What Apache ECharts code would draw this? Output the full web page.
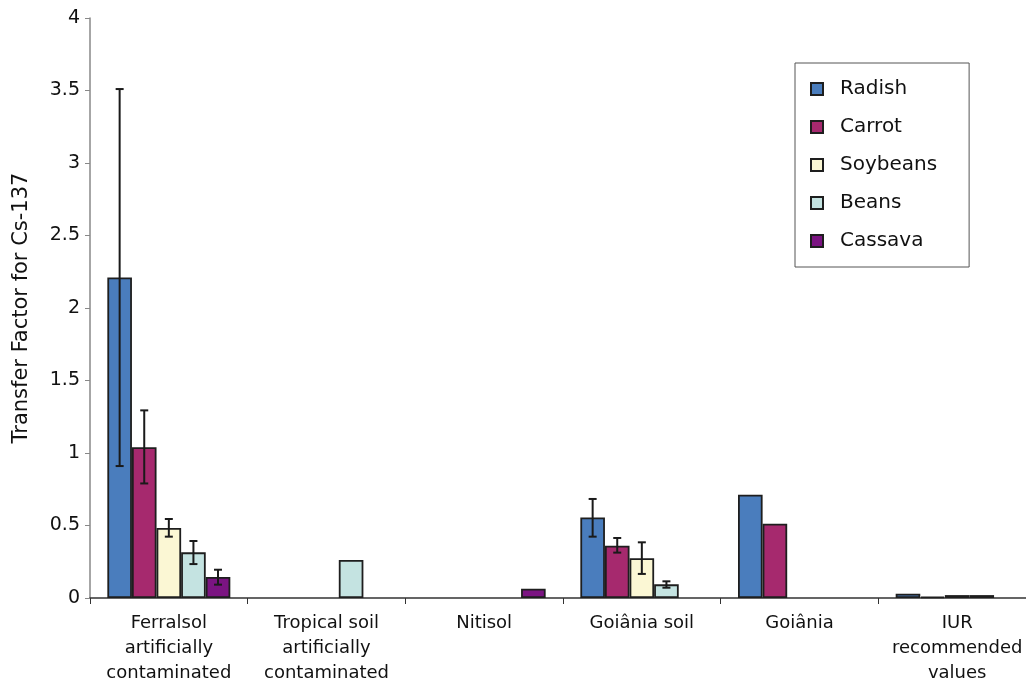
<!DOCTYPE html>
<html>
<head>
<meta charset="utf-8">
<script src="https://cdn.jsdelivr.net/npm/echarts@6/dist/echarts.min.js"></script>
<style>
html, body { margin: 0; padding: 0; background: #fff; }
#chart { width: 1026px; height: 683px; }
</style>
</head>
<body>
<div id="chart"></div>
<script>
var categories = [
    'Ferralsol\nartificially\ncontaminated',
    'Tropical soil\nartificially\ncontaminated',
    'Nitisol',
    'Goiânia soil',
    'Goiânia',
    'IUR\nrecommended\nvalues'
];
var seriesNames = ['Radish', 'Carrot', 'Soybeans', 'Beans', 'Cassava'];
var colors = ['#4a7dbd', '#a6296e', '#fbf7d4', '#c4e3e1', '#7b1482'];

var radish   = [2.21, '-', '-', 0.555, 0.712, 0.03];
var carrot   = [1.04, '-', '-', 0.36, 0.512, 0.01];
var soybeans = [0.483, '-', '-', 0.274, '-', 0.02];
var beans    = [0.315, 0.262, '-', 0.094, '-', 0.02];
var cassava  = [0.145, '-', 0.064, '-', '-', '-'];

// error bars [low, high] per category
var radishErr   = [[0.91, 3.51], null, null, [0.423, 0.683], null, null];
var carrotErr   = [[0.79, 1.294], null, null, [0.313, 0.414], null, null];
var soybeansErr = [[0.423, 0.545], null, null, [0.166, 0.384], null, null];
var beansErr    = [[0.234, 0.393], null, null, [0.071, 0.115], null, null];
var cassavaErr  = [[0.092, 0.195], null, null, null, null, null];

var values = [radish, carrot, soybeans, beans, cassava];
var errs = [radishErr, carrotErr, soybeansErr, beansErr, cassavaErr];

var catGap = 0.22;
var errData = [];
errs.forEach(function (list, s) {
    list.forEach(function (e, c) {
        if (e) errData.push([c, s, e[0], e[1]]);
    });
});

var chart = echarts.init(document.getElementById('chart'));

var series = seriesNames.map(function (name, i) {
    return {
        name: name,
        type: 'bar',
        barGap: 0,
        barCategoryGap: (catGap * 100) + '%',
        data: values[i],
        itemStyle: {
            color: colors[i],
            borderColor: '#1e1e1e',
            borderWidth: 1.8
        }
    };
});

series.push({
    type: 'custom',
    name: 'err',
    z: 10,
    renderItem: function (params, api) {
        var c = api.value(0), s = api.value(1);
        var band = api.size([1, 0])[0];
        var bw = band * (1 - catGap) / 5;
        var lo = api.coord([c, api.value(2)]);
        var hi = api.coord([c, api.value(3)]);
        var x = lo[0] + (s - 2) * bw;
        var cap = 4;
        var st = { stroke: '#1a1a1a', lineWidth: 2 };
        return {
            type: 'group',
            children: [
                { type: 'line', shape: { x1: x, y1: lo[1], x2: x, y2: hi[1] }, style: st },
                { type: 'line', shape: { x1: x - cap, y1: lo[1], x2: x + cap, y2: lo[1] }, style: st },
                { type: 'line', shape: { x1: x - cap, y1: hi[1], x2: x + cap, y2: hi[1] }, style: st }
            ]
        };
    },
    encode: { x: 0, y: 2 },
    data: errData,
    silent: true
});

var option = {
    animation: false,
    grid: {
        left: 90,
        right: -10,
        top: 18,
        bottom: 85,
        outerBoundsMode: 'none'
    },
    legend: {
        data: seriesNames,
        icon: 'rect',
        orient: 'vertical',
        left: 795,
        top: 63,
        padding: [16, 32, 16, 15],
        itemGap: 18,
        itemWidth: 12,
        itemHeight: 12,
        borderColor: '#555',
        borderWidth: 1,
        backgroundColor: '#fff',
        textStyle: {
            fontFamily: 'DejaVu Sans',
            fontSize: 20,
            color: '#111',
            padding: [0, 0, 0, 12]
        }
    },
    xAxis: {
        type: 'category',
        data: categories,
        axisLine: { lineStyle: { color: '#333', width: 1.5 } },
        axisTick: { show: true, length: 6, lineStyle: { color: '#333' } },
        axisLabel: {
            fontFamily: 'DejaVu Sans',
            fontSize: 18,
            color: '#111',
            lineHeight: 25,
            margin: 13,
            interval: 0
        }
    },
    yAxis: {
        type: 'value',
        min: 0,
        max: 4,
        interval: 0.5,
        name: 'Transfer Factor for Cs-137',
        nameLocation: 'middle',
        nameGap: 58,
        nameTextStyle: {
            fontFamily: 'DejaVu Sans',
            fontSize: 21,
            color: '#111'
        },
        splitLine: { show: false },
        axisLine: { show: true, lineStyle: { color: '#888', width: 1.5 } },
        axisTick: { show: true, length: 5, lineStyle: { color: '#888' } },
        axisLabel: {
            fontFamily: 'DejaVu Sans',
            fontSize: 19,
            color: '#111',
            margin: 10
        }
    },
    series: series
};

chart.setOption(option);
window.addEventListener('resize', function () {
    chart.resize();
});
</script>
</body>
</html>
